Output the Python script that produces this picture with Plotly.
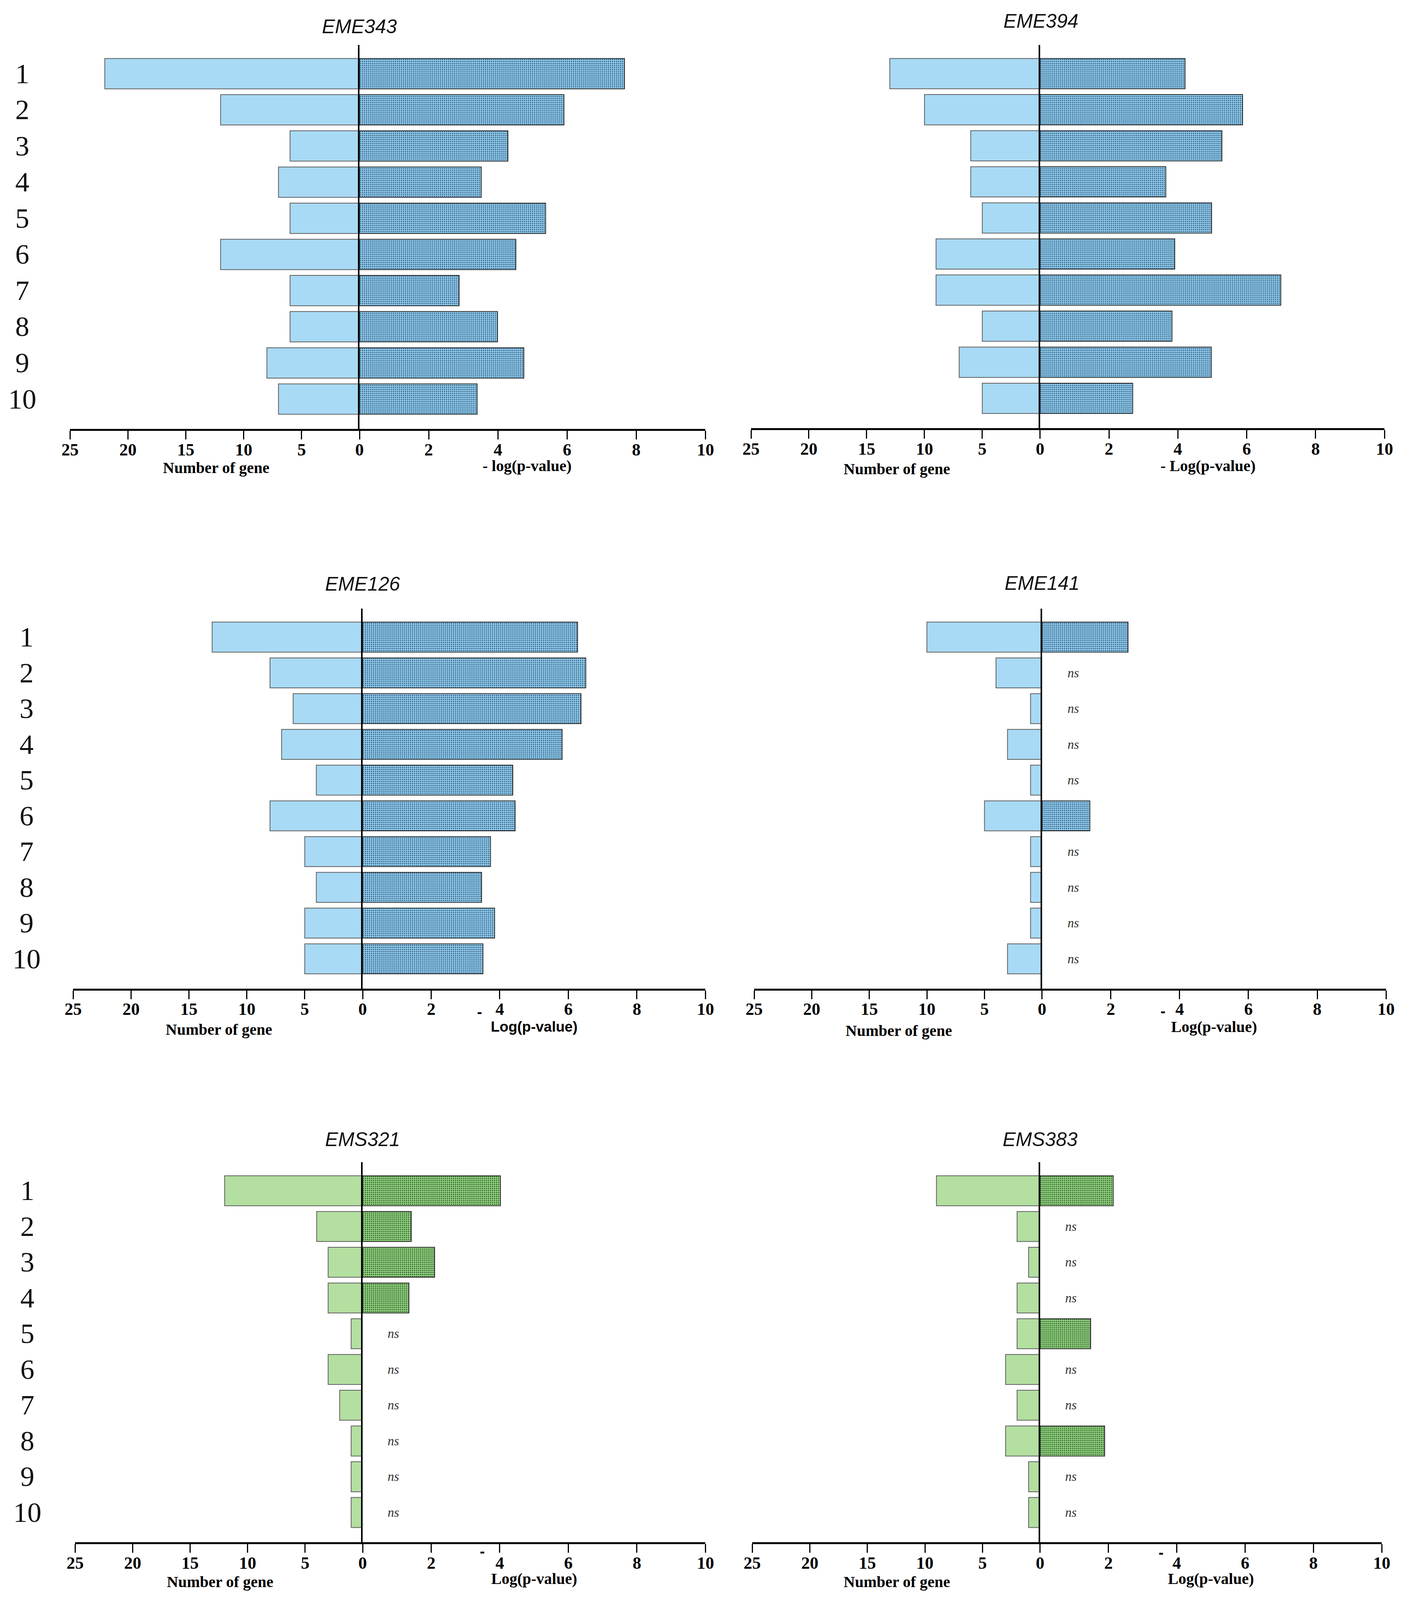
import plotly.graph_objects as go

# ---------------- data ----------------
categories = [1, 2, 3, 4, 5, 6, 7, 8, 9, 10]
category_labels = ["1", "2", "3", "4", "5", "6", "7", "8", "9", "10"]

titles = ["EME343", "EME394", "EME126", "EME141", "EMS321", "EMS383"]

eme343_genes = [22, 12, 6, 7, 6, 12, 6, 6, 8, 7]
eme343_logp = [7.66, 5.91, 4.29, 3.52, 5.38, 4.52, 2.88, 3.99, 4.75, 3.40]

eme394_genes = [13, 10, 6, 6, 5, 9, 9, 5, 7, 5]
eme394_logp = [4.21, 5.88, 5.28, 3.65, 4.98, 3.91, 6.99, 3.83, 4.97, 2.69]

eme126_genes = [13, 8, 6, 7, 4, 8, 5, 4, 5, 5]
eme126_logp = [6.27, 6.51, 6.37, 5.82, 4.38, 4.45, 3.73, 3.47, 3.85, 3.51]

eme141_genes = [10, 4, 1, 3, 1, 5, 1, 1, 1, 3]
eme141_logp = [2.50, None, None, None, None, 1.39, None, None, None, None]

ems321_genes = [12, 4, 3, 3, 1, 3, 2, 1, 1, 1]
ems321_logp = [4.02, 1.42, 2.10, 1.35, None, None, None, None, None, None]

ems383_genes = [9, 2, 1, 2, 2, 3, 2, 3, 1, 1]
ems383_logp = [2.14, None, None, None, 1.48, None, None, 1.89, None, None]

gene_ticks = [0, 5, 10, 15, 20, 25]
gene_ticklabels = ["0", "5", "10", "15", "20", "25"]
logp_ticks = [2, 4, 6, 8, 10]
logp_ticklabels = ["2", "4", "6", "8", "10"]

left_title = "Number of gene"
ns_text = "ns"

# ---------------- geometry / style ----------------
FIG_W, FIG_H = 3580, 4090
OFF = 8


def px(x):
    xc = 1.0094 * x - 17.5
    return (xc - OFF) / FIG_W


def py(y):
    yc = 0.9967 * y
    return 1 - (yc - OFF) / FIG_H


SERIF = "Liberation Serif"
SANS = "Liberation Sans"

BLUE = dict(left="#a8daf5", bg="#96d5f7", fg="#1f3f60")
GREEN = dict(left="#b3dfa0", bg="#98da84", fg="#1a451a")

panels = [
    dict(genes=eme343_genes, logp=eme343_logp, col=BLUE, xl=175, x0=918, xr=1806, yt=115, yb=1102,
         title=(918, 68), catx=52, nog=(550, 1201), logt=(1348, 1196), logtext="- log(p-value)",
         logfont=SERIF, dash=None),
    dict(genes=eme394_genes, logp=eme394_logp, col=BLUE, xl=1923, x0=2665, xr=3549, yt=115, yb=1100,
         title=(2667, 54), catx=None, nog=(2298, 1204), logt=(3096, 1196), logtext="- Log(p-value)",
         logfont=SERIF, dash=None),
    dict(genes=eme126_genes, logp=eme126_logp, col=BLUE, xl=183, x0=926, xr=1806, yt=1563, yb=2539,
         title=(926, 1500), catx=63, nog=(557, 2644), logt=(1366, 2637), logtext="Log(p-value)",
         logfont=SANS, dash=(1226, 2600)),
    dict(genes=eme141_genes, logp=eme141_logp, col=BLUE, xl=1931, x0=2670, xr=3553, yt=1563, yb=2539,
         title=(2670, 1498), catx=None, nog=(2303, 2647), logt=(3112, 2637), logtext="Log(p-value)",
         logfont=SERIF, dash=(2981, 2598)),
    dict(genes=ems321_genes, logp=ems321_logp, col=GREEN, xl=188, x0=926, xr=1806, yt=2985, yb=3961,
         title=(926, 2927), catx=65, nog=(560, 4063), logt=(1366, 4055), logtext="Log(p-value)",
         logfont=SERIF, dash=(1233, 3985)),
    dict(genes=ems383_genes, logp=ems383_logp, col=GREEN, xl=1926, x0=2665, xr=3542, yt=2985, yb=3961,
         title=(2665, 2927), catx=None, nog=(2298, 4063), logt=(3104, 4055), logtext="Log(p-value)",
         logfont=SERIF, dash=(2976, 3988)),
]


def ref(prefix, n):
    return prefix if n == 1 else f"{prefix}{n}"


def key(prefix, n):
    return f"{prefix}axis" if n == 1 else f"{prefix}axis{n}"


fig = go.Figure()
layout = {}
annotations = []

tickfont = dict(family=SERIF, size=44, color="black", weight="bold")

for i, p in enumerate(panels):
    nl, nr, ny = 2 * i + 1, 2 * i + 2, i + 1
    xl_ref, xr_ref, y_ref = ref("x", nl), ref("x", nr), ref("y", ny)

    fig.add_trace(go.Bar(
        x=p["genes"], y=categories, orientation="h", xaxis=xl_ref, yaxis=y_ref, width=0.84,
        marker=dict(color=p["col"]["left"], line=dict(color="#5f5f5f", width=2)),
        showlegend=False, hoverinfo="x+y"))
    fig.add_trace(go.Bar(
        x=p["logp"], y=categories, orientation="h", xaxis=xr_ref, yaxis=y_ref, width=0.84,
        marker=dict(color=p["col"]["bg"],
                    pattern=dict(shape=".", bgcolor=p["col"]["bg"], fgcolor=p["col"]["fg"],
                                 size=5, solidity=0.32, fillmode="replace"),
                    line=dict(color="#2a2a2a", width=2)),
        showlegend=False, hoverinfo="x+y"))

    common_x = dict(anchor=y_ref, showline=True, linecolor="black", linewidth=5,
                    ticks="outside", ticklen=22, tickwidth=3, tickcolor="black",
                    ticklabelstandoff=-12,
                    showgrid=False, zeroline=False, tickfont=tickfont, fixedrange=True)
    layout[key("x", nl)] = dict(domain=[px(p["xl"]), px(p["x0"])], range=[25, 0],
                                tickmode="array", tickvals=gene_ticks, ticktext=gene_ticklabels,
                                **common_x)
    layout[key("x", nr)] = dict(domain=[px(p["x0"]), px(p["xr"])], range=[0, 10],
                                tickmode="array", tickvals=logp_ticks, ticktext=logp_ticklabels,
                                **common_x)
    layout[key("y", ny)] = dict(domain=[py(p["yb"]), py(p["yt"])], range=[10.83, 0.2],
                                anchor=xr_ref, side="left", showline=True, linecolor="black",
                                linewidth=4, showticklabels=False, ticks="", showgrid=False,
                                zeroline=False, fixedrange=True)

    # title
    annotations.append(dict(xref="paper", yref="paper", x=px(p["title"][0]), y=py(p["title"][1]),
                            text=f"<i>{titles[i]}</i>", showarrow=False, xanchor="center",
                            yanchor="middle", font=dict(family=SANS, size=50, color="#111111")))
    # category labels
    if p["catx"] is not None:
        for c, lab in zip(categories, category_labels):
            annotations.append(dict(xref="paper", yref=y_ref, x=px(p["catx"]), y=c, text=lab,
                                    showarrow=False, xanchor="center", yanchor="middle",
                                    font=dict(family=SERIF, size=72, color="#111111")))
    # axis titles
    annotations.append(dict(xref="paper", yref="paper", x=px(p["nog"][0]), y=py(p["nog"][1]),
                            text=left_title, showarrow=False, xanchor="center", yanchor="middle",
                            font=dict(family=SERIF, size=40, color="black", weight="bold")))
    annotations.append(dict(xref="paper", yref="paper", x=px(p["logt"][0]), y=py(p["logt"][1]),
                            text=p["logtext"], showarrow=False, xanchor="center", yanchor="middle",
                            font=dict(family=p["logfont"], size=40 if p["logfont"] == SERIF else 37,
                                      color="black", weight="bold")))
    if p["dash"] is not None:
        annotations.append(dict(xref="paper", yref="paper", x=px(p["dash"][0]), y=py(p["dash"][1]),
                                text="-", showarrow=False, xanchor="center", yanchor="middle",
                                font=dict(family=SANS, size=38, color="black", weight="bold")))
    # ns labels
    for c, v in zip(categories, p["logp"]):
        if v is None:
            annotations.append(dict(xref=xr_ref, yref=y_ref, x=0.9, y=c, text=f"<i>{ns_text}</i>",
                                    showarrow=False, xanchor="center", yanchor="middle",
                                    font=dict(family=SERIF, size=33, color="#333333")))

fig.update_layout(
    width=FIG_W, height=FIG_H,
    margin=dict(l=0, r=0, t=0, b=0, pad=0),
    paper_bgcolor="white", plot_bgcolor="white",
    barmode="overlay", showlegend=False,
    annotations=annotations,
    **layout,
)

fig.write_html("out.html")
